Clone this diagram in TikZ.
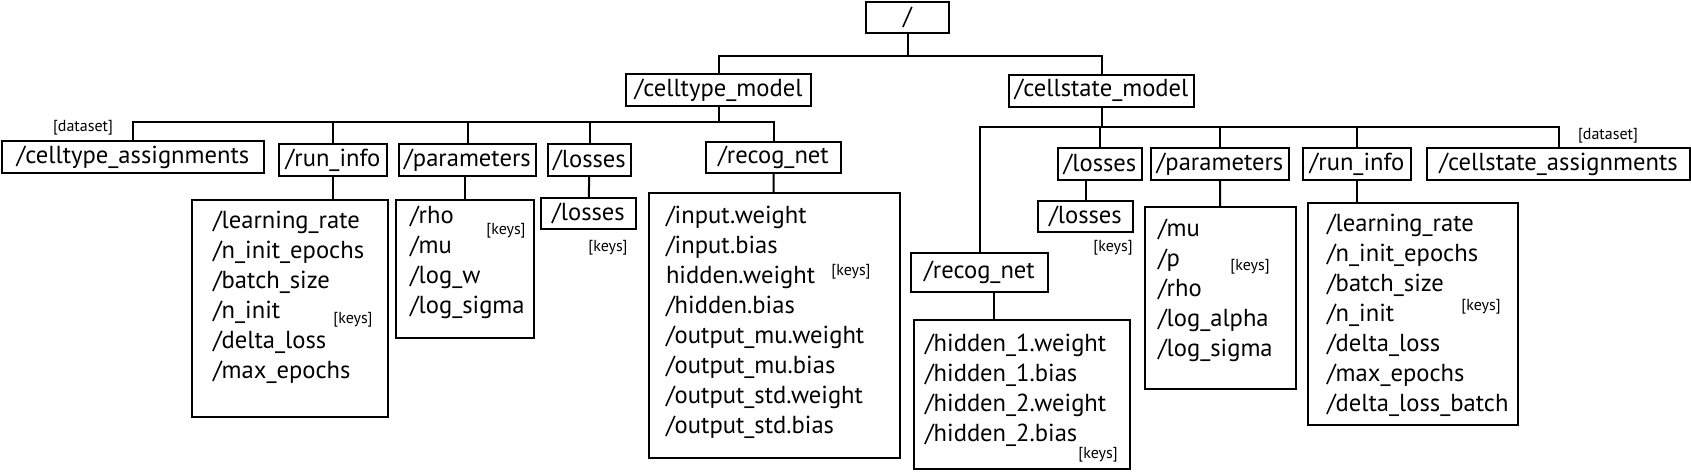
\documentclass[tikz,border=0pt]{standalone}
\usepackage{fontspec}
\setmainfont{PT Sans}
\tikzset{hbox/.style={draw, line width=1pt, inner sep=0pt, minimum height=16pt, font=\fontsize{12.3}{15}\selectfont},
  listbox/.style={draw, line width=1pt, inner sep=0pt, anchor=north west},
  entries/.style={anchor=base west, inner sep=0pt, text width=120pt, align=left, font=\fontsize{12.3}{15}\selectfont},
  tag/.style={inner sep=0pt, font=\fontsize{8}{9}\selectfont}}

\begin{document}
\begin{tikzpicture}[x=0.5pt, y=-0.5pt, line width=1pt]
\useasboundingbox (0,0) rectangle (1691,471);
% top level
\node[hbox, minimum width=41.5pt, minimum height=15.5pt] (root) at (907.5,17.5) {/};
\node[hbox, minimum width=92.5pt] (ctmodel) at (718.5,90) {/celltype\_model};
\node[hbox, minimum width=92.5pt] (csmodel) at (1101.5,90.5) {/cellstate\_model};
\coordinate (topbus) at (907.5,56);
\draw (root.south) -- (topbus);
\draw (ctmodel.north) |- (topbus) -| (csmodel.north);

% celltype model
\node[hbox, minimum width=131pt] (ctassign) at (133,157) {/celltype\_assignments};
\node[tag] (ctdata) at (83,128) {[dataset]};
\node[hbox, minimum width=54pt] (ctrun) at (333,160) {/run\_info};
\node[hbox, minimum width=68.5pt] (ctparam) at (467.5,160) {/parameters};
\node[hbox, minimum width=41.5pt] (ctloss) at (589.5,160) {/losses};
\node[hbox, minimum width=67.5pt, minimum height=15.5pt] (ctrecog) at (773.5,157.5) {/recog\_net};
\coordinate (ctbus) at (718.5,122);
\draw (ctmodel.south) -- (ctbus);
\draw (ctassign.north) |- (ctbus) -| (ctrecog.north);
\foreach \n in {ctrun,ctparam,ctloss}
  \draw (\n.north) -- (\n.north |- ctbus);

\node[listbox, minimum width=98pt, minimum height=108.5pt] (ctrunlist) at (191,199) {};
\node[entries] (ctrunkeys) at (212,228) {/learning\_rate\\/n\_init\_epochs\\/batch\_size\\/n\_init\\/delta\_loss\\/max\_epochs};
\node[tag] (ctruntag) at (353,320) {[keys]};
\draw (ctrun.south) -- (ctrun.south |- ctrunlist.north);

\node[listbox, minimum width=69pt, minimum height=69pt] (ctparamlist) at (395,199) {};
\node[entries] (ctparamkeys) at (409,223) {/rho\\/mu\\/log\_w\\/log\_sigma};
\node[tag] (ctparamtag) at (506,231) {[keys]};
\draw (ctparamlist.north) -- (ctparamlist.north |- ctparam.south);

\node[hbox, minimum width=47.5pt, minimum height=15.5pt] (ctlosslist) at (588.5,213.5) {/losses};
\node[tag] (ctlosstag) at (608,248) {[keys]};
\draw (ctloss) -- (ctlosslist);

\node[listbox, minimum width=125.5pt, minimum height=132.5pt] (ctrecoglist) at (648,192) {};
\node[entries] (ctrecogkeys) at (665,223) {/input.weight\\/input.bias\\hidden.weight\\/hidden.bias\\/output\_mu.weight\\/output\_mu.bias\\/output\_std.weight\\/output\_std.bias};
\node[tag] (ctrecogtag) at (851,272) {[keys]};
\draw (ctrecog) -- (ctrecoglist);

% cellstate model
\node[hbox, minimum width=42pt] (csloss) at (1100,164) {/losses};
\node[hbox, minimum width=69pt] (csparam) at (1220,164) {/parameters};
\node[hbox, minimum width=54pt] (csrun) at (1357,164) {/run\_info};
\node[hbox, minimum width=131.5pt] (csassign) at (1558.5,164) {/cellstate\_assignments};
\node[tag] (csdata) at (1608,136) {[dataset]};
\node[hbox, minimum width=68.5pt, minimum height=19.5pt] (csrecog) at (979.5,272.5) {/recog\_net};
\coordinate (csbus) at (1101.5,127);
\draw (csmodel.south) -- (csbus);
\draw (csrecog.north) |- (csbus) -| (csassign.north);
\foreach \n in {csloss,csparam,csrun}
  \draw (\n.north) -- (\n.north |- csbus);

\node[hbox, minimum width=47.5pt, minimum height=15.5pt] (cslosslist) at (1085.5,216.5) {/losses};
\node[tag] (cslosstag) at (1113,248) {[keys]};
\draw (cslosslist.north) -- (cslosslist.north |- csloss.south);

\node[listbox, minimum width=75.5pt, minimum height=91pt] (csparamlist) at (1144,206) {};
\node[entries] (csparamkeys) at (1157,236) {/mu\\/p\\/rho\\/log\_alpha\\/log\_sigma};
\node[tag] (csparamtag) at (1250,267) {[keys]};
\draw (csparam) -- (csparamlist);

\node[listbox, minimum width=105pt, minimum height=111pt] (csrunlist) at (1307,202) {};
\node[entries] (csrunkeys) at (1326,231) {/learning\_rate\\/n\_init\_epochs\\/batch\_size\\/n\_init\\/delta\_loss\\/max\_epochs\\/delta\_loss\_batch};
\node[tag] (csruntag) at (1481,307) {[keys]};
\draw (csrun.south) -- (csrun.south |- csrunlist.north);

\node[listbox, minimum width=108pt, minimum height=74.5pt] (csrecoglist) at (913,319) {};
\node[entries] (csrecogkeys) at (924,351) {/hidden\_1.weight\\/hidden\_1.bias\\/hidden\_2.weight\\/hidden\_2.bias};
\node[tag] (csrecogtag) at (1098,455) {[keys]};
\draw ([xshift=7pt]csrecog.south) -- ([xshift=7pt]csrecog.south |- csrecoglist.north);
\end{tikzpicture}
\end{document}
